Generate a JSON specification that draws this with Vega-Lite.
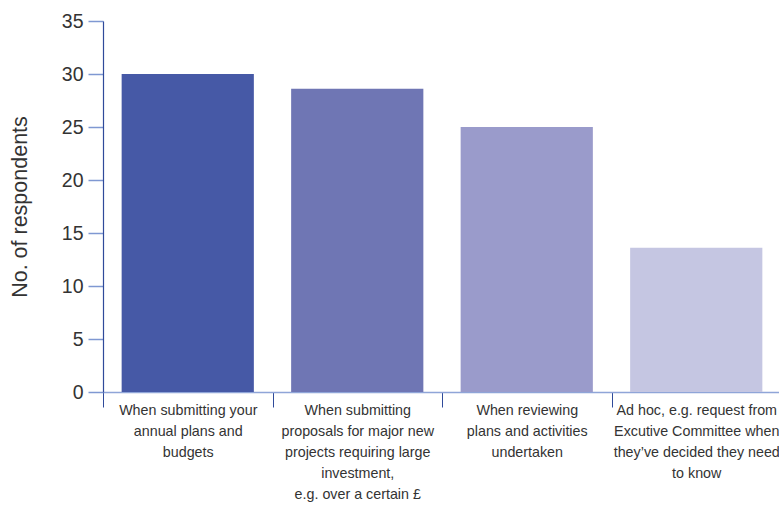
{
  "$schema": "https://vega.github.io/schema/vega-lite/v6.json",
  "width": 678,
  "height": 371,
  "autosize": {"type": "none"},
  "padding": {"left": 103, "top": 21, "right": 0, "bottom": 115},
  "background": "white",
  "config": {
    "view": {"stroke": null},
    "font": "Liberation Sans"
  },
  "data": {
    "values": [
      {"cat": "When submitting your|annual plans and|budgets", "value": 30.0, "order": 1},
      {"cat": "When submitting|proposals for major new|projects requiring large|investment,|e.g. over a certain £", "value": 28.6, "order": 2},
      {"cat": "When reviewing|plans and activities|undertaken", "value": 25.0, "order": 3},
      {"cat": "Ad hoc, e.g. request from|Excutive Committee when|they’ve decided they need|to know", "value": 13.6, "order": 4}
    ]
  },
  "mark": {"type": "bar"},
  "encoding": {
    "x": {
      "field": "cat",
      "type": "nominal",
      "sort": {"field": "order"},
      "scale": {"paddingInner": 0.22, "paddingOuter": 0.11},
      "axis": {
        "title": null,
        "labelAngle": 0,
        "labelExpr": "split(datum.label, '|')",
        "labelFont": "Liberation Sans",
        "labelFontSize": 14.3,
        "labelColor": "#333333",
        "labelLineHeight": 21,
        "labelBaseline": "top",
        "labelPadding": -4,
        "labelLimit": 0,
        "tickOffset": -84.75,
        "labelOffset": 84.75,
        "tickSize": 15,
        "tickColor": "#2f4a9a",
        "domainColor": "#8fa5d8",
        "domainWidth": 1.5
      }
    },
    "y": {
      "field": "value",
      "type": "quantitative",
      "scale": {"domain": [0, 35], "nice": false},
      "axis": {
        "title": "No. of respondents",
        "titleFont": "Liberation Sans",
        "titleFontSize": 21.5,
        "titleFontWeight": "normal",
        "titleColor": "#333333",
        "titlePadding": 30,
        "values": [0, 5, 10, 15, 20, 25, 30, 35],
        "labelFont": "Liberation Sans",
        "labelFontSize": 19.5,
        "labelColor": "#333333",
        "labelPadding": 5,
        "tickSize": 15,
        "tickColor": "#7f98d2",
        "tickWidth": 1.5,
        "domainColor": "#2f4a9a",
        "domainWidth": 1.2,
        "grid": false
      }
    },
    "color": {
      "field": "cat",
      "type": "nominal",
      "sort": {"field": "order"},
      "scale": {"range": ["#4659a6", "#6f76b4", "#9a9bcb", "#c5c6e2"]},
      "legend": null
    }
  }
}
